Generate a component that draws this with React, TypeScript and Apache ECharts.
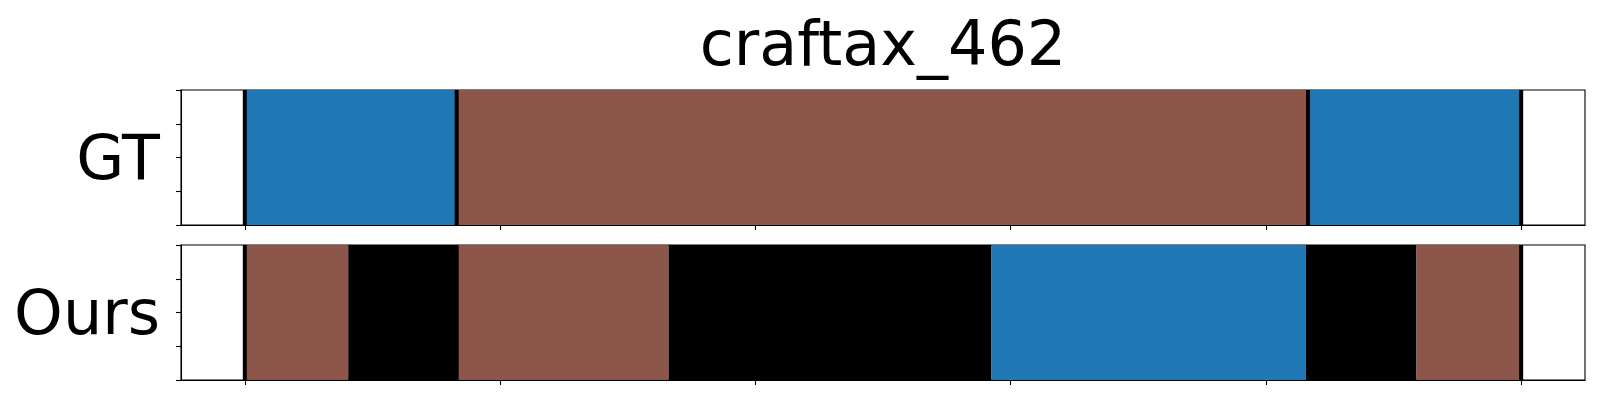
import React, { useEffect, useRef } from "react";
import * as echarts from "echarts";

// Episode progress in percent (0..100); segment boundaries
const titleText = "craftax_462";
const rowNames = ["GT", "Ours"];
const gtBoundaries = [0, 16.6, 83.3, 100];
const gtClasses = ["blue", "brown", "blue"];
const oursBoundaries = [0, 8.1, 16.6, 33.2, 58.5, 83.3, 91.8, 100];
const oursClasses = ["brown", "black", "brown", "black", "blue", "black", "brown"];
const xTicks = [0, 20, 40, 60, 80, 100];

const classColors: Record<string, string> = {
  blue: "#1f77b4",
  brown: "#8c564b",
  black: "#000000",
};

const FONT = '"DejaVu Sans", sans-serif';

function segments(bounds: number[], classes: string[]) {
  return classes.map((c, i) => [bounds[i], bounds[i + 1], c]);
}

export default function App() {
  const ref = useRef<HTMLDivElement>(null);
  useEffect(() => {
    if (!ref.current) return;
    const chart = echarts.init(ref.current, null, { renderer: "svg" });

    const gridLeft = 181;
    const gridWidth = 1404;
    const grids = [
      { left: gridLeft, top: 90, width: gridWidth, height: 135 },
      { left: gridLeft, top: 245, width: gridWidth, height: 135 },
    ];

    const rowData = [
      segments(gtBoundaries, gtClasses),
      segments(oursBoundaries, oursClasses),
    ];

    const segRender = (params: any, api: any) => {
      const s = api.value(0);
      const e = api.value(1);
      const cls = api.value(2);
      const p0 = api.coord([s, 1]);
      const p1 = api.coord([e, 0]);
      return {
        type: "rect",
        shape: { x: p0[0], y: p0[1], width: p1[0] - p0[0], height: p1[1] - p0[1] },
        style: { fill: classColors[cls as string] || "#000" },
      };
    };

    const lineRender = (params: any, api: any) => {
      const b = api.value(0);
      const p0 = api.coord([b, 1]);
      const p1 = api.coord([b, 0]);
      return {
        type: "rect",
        shape: { x: p0[0] - 2, y: p0[1], width: 4, height: p1[1] - p0[1] },
        style: { fill: "#000" },
      };
    };

    const option: any = {
      animation: false,
      backgroundColor: "#fff",
      graphic: [
        {
          type: "text",
          x: gridLeft + gridWidth / 2,
          y: 12,
          style: {
            text: titleText,
            fontSize: 62,
            fontFamily: FONT,
            fill: "#000",
            align: "center",
            verticalAlign: "top",
          },
        },
      ],
      grid: grids.map((g) => ({
        ...g,
        show: true,
        borderColor: "#000",
        borderWidth: 1.1,
        backgroundColor: "transparent",
        containLabel: false,
      })),
      xAxis: grids.map((_, i) => ({
        type: "value",
        gridIndex: i,
        min: -5,
        max: 105,
        axisLine: { show: true, onZero: false, lineStyle: { color: "#000", width: 1.1 } },
        axisTick: {
          show: true,
          length: 5,
          inside: false,
          customValues: xTicks,
          lineStyle: { color: "#000", width: 1.1 },
        },
        axisLabel: { show: false, customValues: xTicks },
        splitLine: { show: false },
      })),
      yAxis: grids.map((_, i) => ({
        type: "value",
        gridIndex: i,
        min: 0,
        max: 1,
        interval: 0.25,
        name: rowNames[i],
        nameLocation: "middle",
        nameRotate: 0,
        nameGap: 21,
        nameTextStyle: { fontSize: 62, fontFamily: FONT, color: "#000" },
        axisLine: { show: true, onZero: false, lineStyle: { color: "#000", width: 1.1 } },
        axisTick: { show: true, length: 5, inside: false, lineStyle: { color: "#000", width: 1.1 } },
        axisLabel: { show: false },
        splitLine: { show: false },
      })),
      series: [
        ...rowData.map((d, i) => ({
          type: "custom",
          xAxisIndex: i,
          yAxisIndex: i,
          renderItem: segRender,
          data: d,
          z: 2,
        })),
        ...rowData.map((_, i) => ({
          type: "custom",
          xAxisIndex: i,
          yAxisIndex: i,
          renderItem: lineRender,
          data: gtBoundaries.map((b) => [b]),
          z: 3,
        })),
      ],
    };
    chart.setOption(option);
    return () => chart.dispose();
  }, []);

  return (
    <div
      ref={ref}
      style={{ position: "fixed", left: 0, top: 0, width: 1600, height: 400, background: "#fff" }}
    />
  );
}
